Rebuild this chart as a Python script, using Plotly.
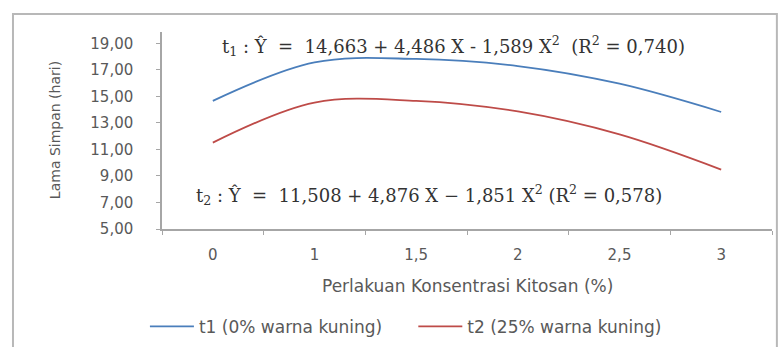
import plotly.graph_objects as go

# Chitosan concentration treatments (%) and shelf life (days)
konsentrasi = ["0", "1", "1,5", "2", "2,5", "3"]
t1_lama = [14.66, 17.56, 17.82, 17.28, 15.95, 13.82]
t2_lama = [11.51, 14.53, 14.66, 13.86, 12.13, 9.48]
y_ticks = [5, 7, 9, 11, 13, 15, 17, 19]

eq_t1 = "t<sub>1</sub> : Ŷ  =  14,663 + 4,486 X - 1,589 X<sup>2</sup>  (R<sup>2</sup> = 0,740)"
eq_t2 = "t<sub>2</sub> : Ŷ  =  11,508 + 4,876 X − 1,851 X<sup>2</sup> (R<sup>2</sup> = 0,578)"

BLUE = "#4a7ebb"
RED = "#be4b48"
AXIS = "#a6a6a6"
TXT = "#595959"

fig = go.Figure()
fig.add_trace(go.Scatter(
    x=konsentrasi, y=t1_lama, mode="lines", name="t1 (0% warna kuning)",
    line=dict(color=BLUE, width=1.8, shape="spline", smoothing=1.0),
    legend="legend",
))
fig.add_trace(go.Scatter(
    x=konsentrasi, y=t2_lama, mode="lines", name="t2 (25% warna kuning)",
    line=dict(color=RED, width=1.8, shape="spline", smoothing=1.0),
    legend="legend2",
))

legend_style = dict(
    orientation="h", xanchor="left", yanchor="middle",
    font=dict(size=17, color=TXT), itemwidth=44,
    bgcolor="rgba(0,0,0,0)",
)

fig.update_layout(
    width=784, height=347,
    margin=dict(l=162, r=12, t=32, b=118, autoexpand=False),
    paper_bgcolor="white", plot_bgcolor="white",
    separators=",.",
    font=dict(family="DejaVu Sans", color=TXT, size=14),
    showlegend=True,
    legend=dict(x=-0.028, y=-0.497, **legend_style),
    legend2=dict(x=0.412, y=-0.497, **legend_style),
    xaxis=dict(
        type="category", range=[-0.5, 5.5],
        showline=True, linecolor=AXIS, linewidth=1.5,
        ticks="outside", tickson="boundaries", ticklen=4, tickcolor=AXIS,
        ticklabelstandoff=11,
        showgrid=False, zeroline=False,
        tickfont=dict(size=15, color=TXT),
    ),
    yaxis=dict(
        range=[5, 19.85], tickvals=y_ticks, tickformat=".2f",
        showline=True, linecolor=AXIS, linewidth=1.5,
        ticks="outside", ticklen=4, tickcolor=AXIS,
        ticklabelstandoff=20,
        showgrid=False, zeroline=False,
        tickfont=dict(size=15, color=TXT),
    ),
    annotations=[
        dict(text=eq_t1, xref="paper", yref="paper", x=0.095, y=0.93,
             xanchor="left", yanchor="middle", showarrow=False,
             font=dict(family="DejaVu Serif", size=18, color="#333333")),
        dict(text=eq_t2, xref="paper", yref="paper", x=0.053, y=0.175,
             xanchor="left", yanchor="middle", showarrow=False,
             font=dict(family="DejaVu Serif", size=18, color="#333333")),
        dict(text="Perlakuan Konsentrasi Kitosan (%)", xref="paper", yref="paper",
             x=0.5, y=-0.29, xanchor="center", yanchor="middle", showarrow=False,
             font=dict(size=17, color=TXT)),
        dict(text="Lama Simpan (hari)", xref="paper", yref="paper",
             x=-0.176, y=0.5, xanchor="center", yanchor="middle", showarrow=False,
             textangle=-90, font=dict(size=14, color=TXT)),
    ],
    shapes=[
        dict(type="rect", xref="paper", yref="paper",
             x0=-0.2443, x1=1.008, y0=-0.62, y1=1.0914,
             line=dict(color="#b8b8b8", width=2), layer="below"),
    ],
)

fig.write_html("out.html")
